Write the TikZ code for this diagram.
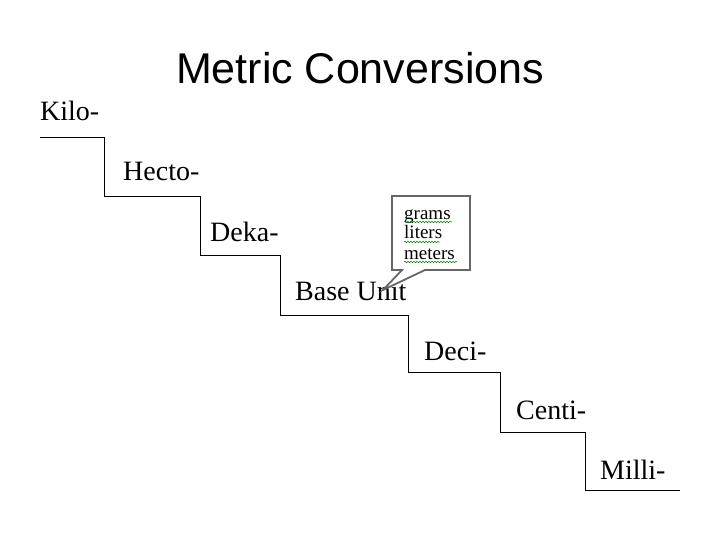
\documentclass[tikz,border=0pt]{standalone}
\usepackage{fontspec}
\setmainfont{Liberation Serif}
\newfontfamily\titlefont{Liberation Sans}
\usetikzlibrary{decorations.pathmorphing}
\begin{document}
\begin{tikzpicture}[x=1pt,y=-1pt,
  lbl/.style={anchor=base west,inner sep=0pt,font=\fontsize{28}{30}\selectfont},
  ctext/.style={inner sep=0pt,anchor=base west,font=\fontsize{19}{20}\selectfont},
  squig/.style={draw=green!50!black,decorate,decoration={snake,amplitude=0.7pt,segment length=3pt},line width=0.5pt}]
\useasboundingbox (0,0) rectangle (720,540);
\node[font=\titlefont\fontsize{43}{46}\selectfont] (title) at (360,68) {Metric Conversions};
\node[lbl] (kilo) at (40,121) {Kilo-};
\node[lbl] (hecto) at (123,181) {Hecto-};
\node[lbl] (deka) at (210,241) {Deka-};
\node[lbl] (base) at (295,300) {Base Unit};
\node[lbl] (deci) at (424,360) {Deci-};
\node[lbl] (centi) at (516,419) {Centi-};
\node[lbl] (milli) at (600,479) {Milli-};
\draw[line width=1pt] (40,138) -- (104,138) -- (104,197) -- (200,197) -- (200,255) -- (280,255) -- (280,315) -- (408,315) -- (408,372) -- (500,372) -- (500,432) -- (585,432) -- (585,490) -- (680,490);
\coordinate (tip) at (383,290);
\draw[draw=gray!80!black,line width=1.8pt,fill=white,line join=miter] (392,196) -- (470,196) -- (470,270) -- (425,270) -- (tip) -- (402,270) -- (392,270) -- cycle;
\node[ctext] (g) at (404,219) {grams};
\node[ctext] (l) at (404,239) {liters};
\node[ctext] (m) at (404,259) {meters};
\draw[squig] (404,222) -- (452,222);
\draw[squig] (404,242) -- (440,242);
\draw[squig] (404,262) -- (457,262);
\end{tikzpicture}
\end{document}
